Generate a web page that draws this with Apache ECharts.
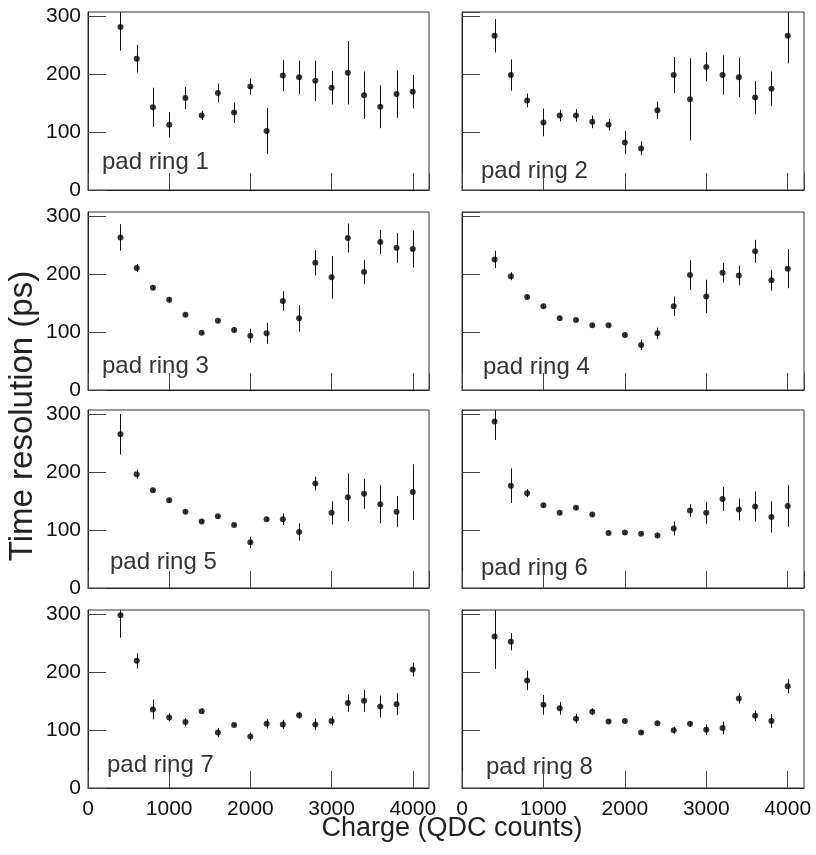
<!DOCTYPE html>
<html>
<head>
<meta charset="utf-8">
<script src="https://cdn.jsdelivr.net/npm/echarts@6/dist/echarts.min.js"></script>
<style>
html,body{margin:0;padding:0;background:#fff;}
#chart{width:816px;height:855px;}
</style>
</head>
<body>
<div id="chart"></div>
<script>
// Charge bins (QDC counts)
const charge = [400,600,800,1000,1200,1400,1600,1800,2000,2200,2400,2600,2800,3000,3200,3400,3600,3800,4000];
const xTicks = [0,1000,2000,3000,4000];
const yTicks = [0,100,200,300];
const ringNames = ['pad ring 1','pad ring 2','pad ring 3','pad ring 4','pad ring 5','pad ring 6','pad ring 7','pad ring 8'];

// Time resolution (ps) and errors per pad ring
const ring1 = [282,227,143,113,159,129,168,134,179,102,198,195,189,177,203,164,144,166,170];
const err1  = [41,24,34,22,19,8,16,18,14,40,27,29,35,29,55,41,37,41,29];
const ring2 = [267,199,155,117,129,129,118,113,82,72,138,199,157,213,199,195,160,175,267];
const err2  = [29,27,12,24,10,11,11,10,20,12,15,31,71,25,34,34,29,30,48];
const ring3 = [264,211,177,156,130,99,120,104,94,98,154,124,220,195,263,204,256,246,244];
const err3  = [23,7,3,5,3,2,2,5,12,18,17,23,22,37,25,21,21,26,32];
const ring4 = [226,197,161,145,124,121,112,112,95,78,98,145,199,162,203,198,240,190,210];
const err4  = [15,7,3,3,2,2,2,2,4,9,10,17,26,29,17,17,20,18,34];
const ring5 = [266,197,169,152,132,115,124,109,79,119,119,97,181,130,157,163,145,132,166];
const err5  = [35,8,3,4,3,3,3,3,10,3,10,15,12,20,41,26,33,27,48];
const ring6 = [288,177,164,143,130,139,127,95,96,94,91,103,134,130,154,136,141,123,142];
const err6  = [32,30,7,3,3,3,3,2,2,2,5,12,11,19,21,19,26,27,36];
const ring7 = [299,220,136,122,114,133,96,109,89,111,110,126,110,116,147,151,141,145,205];
const err7  = [39,13,17,7,7,5,8,3,7,8,8,6,10,8,15,19,19,19,12];
const ring8 = [262,253,186,144,138,120,132,115,116,96,112,100,111,101,104,155,125,116,176];
const err8  = [56,15,17,17,11,8,6,3,3,3,3,6,5,9,11,9,9,12,12];

const rings = [ring1,ring2,ring3,ring4,ring5,ring6,ring7,ring8];
const errs  = [err1,err2,err3,err4,err5,err6,err7,err8];

const FONT = 'Liberation Sans, Arial, Helvetica, sans-serif';
const colLeft = [88, 462];
const colWidth = [341, 342];
const rowTop = [12, 212, 410, 610];
const rowH = 178;
const labelPos = [[102,167],[481,176],[102,371],[483,372],[110,567],[481,573],[107,770],[486,772]];

const grids = [], xAxes = [], yAxes = [], series = [], graphics = [];
for (let i = 0; i < 8; i++) {
  const col = i % 2, row = Math.floor(i / 2);
  grids.push({
    left: colLeft[col], top: rowTop[row], width: colWidth[col], height: rowH,
    show: true, borderColor: '#333', borderWidth: 1, backgroundColor: 'transparent', containLabel: false
  });
  xAxes.push({
    type: 'value', gridIndex: i, min: 0, max: 4200, interval: 1000,
    axisLine: {show: true, onZero: false, lineStyle: {color: '#222', width: 1}},
    axisTick: {show: true, inside: true, length: 17, lineStyle: {color: '#444', width: 1}},
    splitLine: {show: false},
    axisLabel: {
      show: row === 3, margin: 11, color: '#111', fontFamily: FONT, fontSize: 21,
      showMaxLabel: false, showMinLabel: true,
      formatter: v => (xTicks.indexOf(v) >= 0 ? String(v) : '')
    }
  });
  yAxes.push({
    type: 'value', gridIndex: i, min: 0, max: 308, interval: 100,
    axisLine: {show: true, onZero: false, lineStyle: {color: '#222', width: 1}},
    axisTick: {show: true, inside: true, length: 18, lineStyle: {color: '#444', width: 1}},
    splitLine: {show: false},
    axisLabel: {
      show: col === 0, margin: 7, color: '#111', fontFamily: FONT, fontSize: 21,
      showMaxLabel: false, showMinLabel: true,
      formatter: v => (yTicks.indexOf(v) >= 0 ? String(v) : '')
    }
  });
  const pts = charge.map((c, k) => [c, rings[i][k]]);
  const ebs = charge.map((c, k) => [c, rings[i][k], errs[i][k]]);
  series.push({
    type: 'custom', xAxisIndex: i, yAxisIndex: i, data: ebs, z: 2, silent: true,
    renderItem: function (params, api) {
      const x = api.value(0), y = api.value(1), e = api.value(2);
      const p1 = api.coord([x, y + e]);
      const p2 = api.coord([x, y - e]);
      const cs = params.coordSys;
      const px = Math.round(p1[0]) + 0.5;
      return {
        type: 'line',
        shape: {x1: px, y1: Math.max(p1[1], cs.y), x2: px, y2: Math.min(p2[1], cs.y + cs.height)},
        style: {stroke: '#111', lineWidth: 1}
      };
    }
  });
  series.push({
    type: 'scatter', xAxisIndex: i, yAxisIndex: i, data: pts, z: 3,
    symbol: 'circle', symbolSize: 6, itemStyle: {color: '#000'}, silent: true
  });
  graphics.push({
    type: 'text', left: labelPos[i][0], top: labelPos[i][1] - 17,
    style: {text: ringNames[i], fill: '#333', font: '24px ' + FONT}
  });
}

graphics.push({
  type: 'text', x: 452, y: 829,
  style: {text: 'Charge (QDC counts)', fill: '#222', font: '27px ' + FONT, align: 'center', verticalAlign: 'middle'}
});
graphics.push({
  type: 'text', x: 23, y: 416, rotation: Math.PI / 2,
  style: {text: 'Time resolution (ps)', fill: '#222', font: '33px ' + FONT, align: 'center', verticalAlign: 'middle'}
});

const chart = echarts.init(document.getElementById('chart'), null, {renderer: 'canvas'});
chart.setOption({
  animation: false,
  backgroundColor: '#fff',
  grid: grids, xAxis: xAxes, yAxis: yAxes, series: series, graphic: graphics
});
</script>
</body>
</html>
